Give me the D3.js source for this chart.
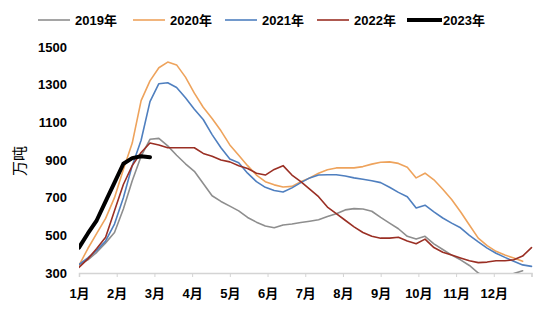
<!DOCTYPE html>
<html>
<head>
<meta charset="utf-8">
<script src="https://cdn.jsdelivr.net/npm/d3@7/dist/d3.min.js"></script>
<style>
  html, body { margin: 0; padding: 0; background: #fff; }
  svg text { font-family: "Liberation Sans", Arial, "Noto Sans CJK SC", sans-serif; }
</style>
</head>
<body>
<svg id="chart" width="550" height="329"></svg>
<script>
// Weekly volume (万吨), one array per year
const months = ["1月","2月","3月","4月","5月","6月","7月","8月","9月","10月","11月","12月"];
const yTicks = [300, 500, 700, 900, 1100, 1300, 1500];
const years = ["2019年","2020年","2021年","2022年","2023年"];

const v2019 = [345,370,410,460,515,640,790,920,1010,1015,975,925,880,840,775,710,680,655,630,595,570,550,540,555,560,568,575,583,600,615,635,642,640,628,595,565,535,495,480,495,455,425,395,370,340,300,275,260,270,297,312];
const v2020 = [340,430,510,590,700,850,990,1215,1320,1390,1420,1405,1340,1255,1180,1120,1055,980,925,870,820,785,768,757,760,785,805,830,848,858,858,858,865,878,888,890,882,862,805,830,795,745,690,625,555,485,445,415,395,380,362];
const v2021 = [345,380,420,470,560,700,870,1005,1210,1305,1310,1285,1230,1170,1115,1035,965,905,885,830,785,755,738,730,752,780,805,820,822,822,815,805,798,790,780,755,728,705,645,660,625,592,565,540,500,465,432,405,383,362,343,335];
const v2022 = [330,375,430,490,630,770,870,940,990,980,965,965,965,965,935,920,900,890,870,855,830,820,850,870,820,785,745,705,650,615,580,545,515,495,485,485,490,470,455,480,435,410,395,380,365,355,358,365,365,370,390,435];
const v2023 = [435,510,580,680,780,880,910,920,915];

const seriesList = [v2019, v2020, v2021, v2022, v2023];
const colors = ["#8e8e8e", "#eea35c", "#4f7fbf", "#9a2f24", "#000000"];
const widths = [1.6, 1.6, 1.6, 1.6, 4];

const svg = d3.select("#chart");
const plotLeft = 79, plotRight = 531.5, plotTop = 47, plotBottom = 273;

const x = d3.scaleLinear().domain([0, 51]).range([plotLeft, plotRight]);
const xMonth = d3.scaleLinear().domain([0, 12]).range([plotLeft, plotRight]);
const y = d3.scaleLinear().domain([300, 1500]).range([plotBottom, plotTop]);

svg.append("clipPath").attr("id", "plot-clip")
  .append("rect").attr("x", plotLeft).attr("y", 0).attr("width", plotRight - plotLeft + 2).attr("height", plotBottom);

// Y axis labels (no axis line)
const yAxis = svg.append("g").attr("transform", `translate(${plotLeft - 12},0)`)
  .call(d3.axisLeft(y).tickValues(yTicks).tickSize(0).tickPadding(0).tickFormat(d3.format("d")));
yAxis.select(".domain").remove();
yAxis.selectAll("text")
  .attr("font-size", 13).attr("font-weight", "bold").attr("fill", "#000")
  .attr("font-family", "'Liberation Sans', Arial, sans-serif");

// X axis with month ticks
const xAxis = svg.append("g").attr("transform", `translate(0,${plotBottom})`)
  .call(d3.axisBottom(xMonth).tickValues(d3.range(13)).tickSize(4).tickPadding(12)
    .tickFormat(i => months[i] || ""));
xAxis.select(".domain").attr("stroke", "#d4d4d4").attr("stroke-width", 1.5);
xAxis.selectAll(".tick line").attr("stroke", "#d4d4d4").attr("stroke-width", 1);
xAxis.selectAll("text")
  .attr("font-size", 13).attr("font-weight", "bold").attr("fill", "#000");

// Unit label
svg.append("text")
  .attr("transform", "translate(25,161) rotate(-90)")
  .attr("text-anchor", "middle")
  .attr("font-size", 15)
  .attr("font-family", "'Noto Sans CJK SC', sans-serif")
  .attr("fill", "#000")
  .text("万吨");

// Lines
const line = d3.line()
  .defined(d => d != null)
  .x((d, i) => x(i))
  .y(d => y(d))
  .curve(d3.curveLinear);

const plot = svg.append("g").attr("clip-path", "url(#plot-clip)");
seriesList.forEach((s, k) => {
  plot.append("path")
    .datum(s)
    .attr("fill", "none")
    .attr("stroke", colors[k])
    .attr("stroke-width", widths[k])
    .attr("stroke-linejoin", "round")
    .attr("stroke-linecap", "round")
    .attr("d", line);
});

// Legend
const legendX = [38, 133, 225, 317, 407];
const legend = svg.append("g").attr("transform", "translate(0,20)");
years.forEach((name, k) => {
  const g = legend.append("g").attr("transform", `translate(${legendX[k]},0)`);
  g.append("line").attr("x1", 0).attr("x2", k === 4 ? 35 : 32).attr("y1", 0).attr("y2", 0)
    .attr("stroke", colors[k]).attr("stroke-width", widths[k]);
  g.append("text").attr("x", k === 4 ? 36 : 37).attr("y", 5)
    .attr("font-size", 13).attr("font-weight", "bold").attr("fill", "#000")
    .text(name);
});
</script>
</body>
</html>
